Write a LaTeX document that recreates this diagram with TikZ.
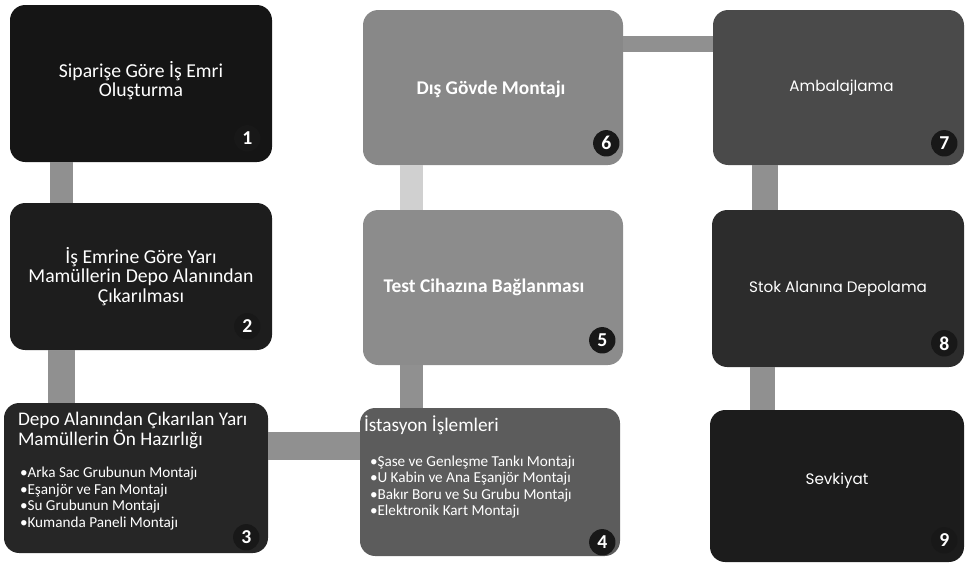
\documentclass[tikz,border=0pt]{standalone}
\usepackage{fontspec}
\setmainfont{Carlito}
\newfontfamily\geofont{Poppins}
\usetikzlibrary{calc,fit}

\definecolor{kara}{HTML}{151515}
\definecolor{kara2}{HTML}{1D1D1D}
\definecolor{kara3}{HTML}{262626}
\definecolor{fume}{HTML}{5C5C5C}
\definecolor{kul}{HTML}{8C8C8C}
\definecolor{kul2}{HTML}{888888}
\definecolor{antrasit}{HTML}{4A4A4A}
\definecolor{kara8}{HTML}{2C2C2C}
\definecolor{kara9}{HTML}{1C1C1C}
\definecolor{kopru}{HTML}{909090}
\definecolor{kopruacik}{HTML}{D0D0D0}
\definecolor{rozetrenk}{HTML}{181818}

\begin{document}
\begin{tikzpicture}[x=0.025cm, y=-0.025cm,
		kutu/.style={rounded corners=0.38cm, inner sep=0pt, draw=none},
		kopru/.style={fill=kopru},
		kopruA/.style={fill=kopruacik},
		baslik/.style={font=\fontsize{14}{13.8}\selectfont, text=white, align=center},
		kalin/.style={font=\fontsize{13.8}{15.5}\selectfont\bfseries, text=white, align=center},
		geo/.style={font=\geofont\fontsize{10.8}{13}\selectfont, text=white, align=center},
		ustyazi/.style={font=\fontsize{13.7}{14.2}\selectfont, text=white, align=left, inner sep=0pt, anchor=north west},
		madde/.style={font=\fontsize{10.8}{11.8}\selectfont, text=white, align=left, inner sep=0pt, anchor=north west},
		rozet/.style={circle, fill=rozetrenk, text=white, inner sep=0pt, minimum size=0.66cm,
			font=\fontsize{14}{14}\selectfont\bfseries},
		]
		\useasboundingbox (0,0) rectangle (969,568);
		
		%% =========================================================
		%% kutular: ad / sol / ust / sag / alt / renk / rozet kaymasi
		%% =========================================================
		\foreach \n/\xa/\ya/\xb/\yb/\c/\rx/\ry in {
			1/10/5/272/162/kara/-25/-24, 2/10/203/272/350/kara2/-25/-24,
			3/4/403/268/553/kara3/-22/-16, 4/360/408/620/556/fume/-18/-14,
			5/363/210/623/365/kul/-21/-25, 6/363/10/623/165/kul2/-17/-22,
			7/713/10/964/165/antrasit/-20/-22, 8/712/210/964/367/kara8/-20/-24,
			9/710/410/964/562/kara9/-20/-22}{
			\node[kutu, fill=\c, fit={(\xa,\ya) (\xb,\yb)}] (n\n) {};
			\node[rozet] (r\n) at ($(n\n.south east)+(\rx,\ry)$) {\n};}
		
		%% =========================================================
		%% baglantilar (kutudan kutuya)
		%% =========================================================
		\fill[kopru] ($(n1.south west)+(40,0)$) rectangle ($(n2.north west)+(63,0)$);
		\fill[kopru] ($(n2.south west)+(38,0)$) rectangle ($(n3.north west)+(71,0)$);
		\fill[kopru] ($(n3.north east)+(0,29)$) rectangle ($(n4.north west)+(0,52)$);
		\fill[kopru] ($(n4.north west)+(40,0)$) rectangle ($(n5.south west)+(60,0)$);
		\fill[kopruA] ($(n5.north west)+(37,0)$) rectangle ($(n6.south west)+(60,0)$);
		\fill[kopru] ($(n6.north east)+(0,26)$) rectangle ($(n7.north west)+(0,42)$);
		\fill[kopru] ($(n7.south west)+(39,0)$) rectangle ($(n8.north west)+(66,0)$);
		\fill[kopru] ($(n8.south west)+(38,0)$) rectangle ($(n9.north west)+(65,0)$);
		
		%% =========================================================
		%% yazilar
		%% =========================================================
		\node[baslik] (t1) at ($(n1.center)+(0,-3)$) {Siparişe Göre İş Emri\\Oluşturma};
		\node[baslik] (t2) at (n2.center) {İş Emrine Göre Yarı\\Mamüllerin Depo Alanından\\Çıkarılması};
		%% kutu 3: baslik ve maddeler
		\node[ustyazi] (t3) at ($(n3.north west)+(14,9)$) {Depo Alanından Çıkarılan Yarı\\Mamüllerin Ön Hazırlığı};
		\node[madde] (m3) at ($(t3.south west)+(2,18)$) {•Arka Sac Grubunun Montajı\\•Eşanjör ve Fan Montajı\\•Su Grubunun Montajı\\•Kumanda Paneli Montajı};
		%% kutu 4: baslik ve maddeler
		\node[ustyazi] (t4) at ($(n4.north west)+(4,8)$) {İstasyon İşlemleri};
		\node[madde] (m4) at ($(t4.south west)+(6,20)$) {•Şase ve Genleşme Tankı Montajı\\•U Kabin ve Ana Eşanjör Montajı\\•Bakır Boru ve Su Grubu Montajı\\•Elektronik Kart Montajı};
		\node[kalin] (t5) at ($(n5.center)+(-9,0)$) {Test Cihazına Bağlanması};
		\node[kalin] (t6) at ($(n6.center)+(-2,2)$) {Dış Gövde Montajı};
		\node[geo] (t7) at ($(n7.center)+(3,0)$) {Ambalajlama};
		\node[geo] (t8) at (n8.center) {Stok Alanına Depolama};
		\node[geo] (t9) at ($(n9.center)+(0,-5)$) {Sevkiyat};
		
\end{tikzpicture}
\end{document}
